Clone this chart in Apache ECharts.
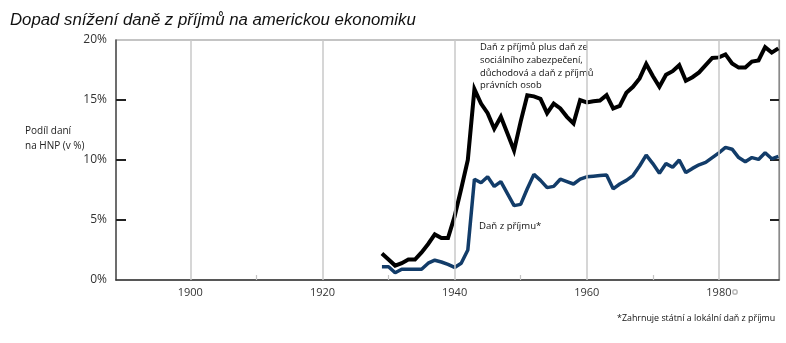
<!DOCTYPE html>
<html>
<head>
<meta charset="utf-8">
<script src="https://cdn.jsdelivr.net/npm/echarts@6/dist/echarts.min.js"></script>
<style>
html,body{margin:0;padding:0;background:#fff;}
#c{width:786px;height:343px;}
</style>
</head>
<body>
<div id="c"></div>
<script>
// ---- data ----
var years = [1929,1930,1931,1932,1933,1934,1935,1936,1937,1938,1939,1940,1941,1942,1943,1944,1945,1946,1947,1948,1949,1950,1951,1952,1953,1954,1955,1956,1957,1958,1959,1960,1961,1962,1963,1964,1965,1966,1967,1968,1969,1970,1971,1972,1973,1974,1975,1976,1977,1978,1979,1980,1981,1982,1983,1984,1985,1986,1987,1988,1989];
var totalTax = [2.2,1.7,1.2,1.4,1.7,1.7,2.3,3.0,3.8,3.5,3.5,5.3,7.6,10.0,15.9,14.7,13.9,12.6,13.6,12.2,10.8,13.2,15.4,15.3,15.1,13.9,14.7,14.3,13.6,13.05,15.0,14.8,14.9,14.95,15.4,14.3,14.5,15.6,16.1,16.8,18.0,17.0,16.1,17.1,17.4,17.9,16.6,16.9,17.3,17.9,18.5,18.55,18.8,18.05,17.7,17.7,18.2,18.3,19.4,18.95,19.3];
var incomeTax = [1.1,1.1,0.6,0.9,0.9,0.9,0.9,1.4,1.65,1.5,1.3,1.05,1.4,2.5,8.4,8.1,8.6,7.8,8.2,7.2,6.2,6.3,7.6,8.8,8.3,7.7,7.8,8.4,8.2,8.0,8.4,8.6,8.65,8.7,8.75,7.6,8.0,8.3,8.7,9.5,10.4,9.7,8.9,9.7,9.4,10.0,8.95,9.3,9.6,9.8,10.2,10.6,11.05,10.9,10.2,9.85,10.2,10.05,10.6,10.1,10.3];
var xLabels = [1900,1920,1940,1960,1980];
var xMinorTicks = [1910,1930,1950,1970];
var yTicks = [5,10,15];

var titleText = 'Dopad snížení daně z příjmů na americkou ekonomiku';
var yAxisName = 'Podíl daní\nna HNP (v %)';
var totalLabel = 'Daň z příjmů plus daň ze\nsociálního zabezpečení,\ndůchodová a daň z příjmů\nprávních osob';
var incomeLabel = 'Daň z příjmu*';
var footnote = '*Zahrnuje státní a lokální daň z příjmu';

function pairs(xs, ys){ return xs.map(function(x,i){ return [x, ys[i]]; }); }

var chart = echarts.init(document.getElementById('c'), null, {renderer:'canvas'});
var font = '"Open Sans", sans-serif';
chart.setOption({
  animation: false,
  backgroundColor: '#fff',
  title: {
    text: titleText, left: 5, top: 7,
    textStyle: {fontFamily: '"Liberation Sans", Arial, sans-serif', fontStyle: 'italic', fontWeight: 'normal', fontSize: 16.8, color: '#111'}
  },
  grid: {left: 116, right: 7, top: 40, bottom: 63, show: true, borderColor: '#8a8a8a', borderWidth: 1.2, backgroundColor: 'transparent'},
  xAxis: {
    type: 'value', min: 1888.75, max: 1989.1,
    axisLine: {show: true, lineStyle: {color: '#333', width: 1.5}},
    axisTick: {show: true, inside: true, length: 5, customValues: xMinorTicks, lineStyle: {color: '#c4c4c4', width: 1.2}},
    axisLabel: {customValues: xLabels, margin: 7, fontFamily: font, fontSize: 11, color: '#333', formatter: function(v){ return String(v); }},
    splitLine: {show: false}
  },
  yAxis: [{
    type: 'value', min: 0, max: 20, interval: 5, position: 'left',
    axisLine: {show: true, lineStyle: {color: '#555', width: 1.5}},
    axisTick: {show: true, inside: true, length: 10, customValues: yTicks, lineStyle: {color: '#222', width: 2}},
    axisLabel: {margin: 9, fontFamily: font, fontSize: 12, color: '#333', formatter: '{value}%'},
    splitLine: {show: false}
  },{
    type: 'value', min: 0, max: 20, interval: 5, position: 'right',
    axisLine: {show: true, lineStyle: {color: '#8a8a8a', width: 1.2}},
    axisTick: {show: true, inside: true, length: 9, customValues: yTicks, lineStyle: {color: '#222', width: 2}},
    axisLabel: {show: false},
    splitLine: {show: false}
  }],
  series: [{
    type: 'line', name: 'grid', data: [], silent: true,
    markLine: {
      silent: true, symbol: 'none', label: {show: false},
      lineStyle: {color: '#c8c8c8', width: 1.5, type: 'solid'},
      data: xLabels.map(function(v){ return {xAxis: v}; })
    }
  },{
    type: 'line', name: 'total', data: pairs(years, totalTax), showSymbol: false, symbol: 'none',
    lineStyle: {color: '#000', width: 4, join: 'miter'}, z: 3
  },{
    type: 'line', name: 'income', data: pairs(years, incomeTax), showSymbol: false, symbol: 'none',
    lineStyle: {color: '#123c69', width: 3.5}, z: 4
  }],
  graphic: [
    {type: 'text', left: 25, top: 124, style: {text: yAxisName, font: '10px ' + font, fill: '#222', lineHeight: 15}},
    {type: 'text', left: 480, top: 41, style: {text: totalLabel, font: '9.4px ' + font, fill: '#111', lineHeight: 12.8}},
    {type: 'text', left: 479, top: 221, style: {text: incomeLabel, font: '9.6px ' + font, fill: '#111'}},
    {type: 'text', left: 617, top: 314, style: {text: footnote, font: '8.9px ' + font, fill: '#111'}},
    {type: 'circle', shape: {cx: 735, cy: 292, r: 2.2}, style: {fill: '#fff', stroke: '#b8b8b8', lineWidth: 1.5}}
  ]
});
</script>
</body>
</html>
